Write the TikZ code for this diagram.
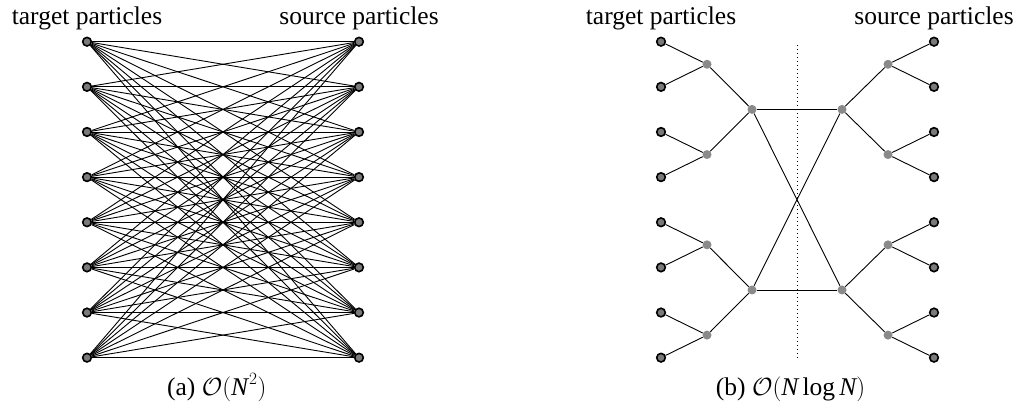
\documentclass[tikz,border=0pt]{standalone}
\usepackage{fontspec}
\setmainfont{Liberation Serif}
\definecolor{leafgray}{HTML}{7A7A7A}
\definecolor{dotgray}{HTML}{8A8A8A}
\begin{document}
\begin{tikzpicture}[x=1pt,y=-1pt,
  leaf/.style={circle,draw=black,fill=leafgray,line width=1.6pt,minimum size=8.6pt,inner sep=0pt},
  inner/.style={circle,fill=dotgray,minimum size=9pt,inner sep=0pt},
  edge/.style={line width=0.9pt,black},
  lab/.style={font=\fontsize{25.5}{30}\selectfont,anchor=base,inner sep=0pt}]
\useasboundingbox (0,0) rectangle (1019,407);
% ---------- panel (a)
\foreach \i in {0,...,7}{
  \node[leaf] (t\i) at (87,{41.7+45.14*\i}) {};
  \node[leaf] (s\i) at (359,{41.7+45.14*\i}) {};
}
\foreach \i in {0,...,7}{
  \foreach \j in {0,...,7}{
    \draw[edge] (t\i) -- (s\j);
  }
}
\node[lab] (la1) at (87,24) {target particles};
\node[lab] (la2) at (359,24) {source particles};
\node[lab] (capa) at (216.7,395) {(a) $\mathcal{O}(\textit{N}^{\kern1pt 2})$};
% ---------- panel (b)
\coordinate (dt) at (797,45);
\coordinate (db) at (797,358);
\draw[line width=1pt,dash pattern=on 1pt off 3pt] (dt) -- (db);
\foreach \i in {0,...,7}{
  \node[leaf] (L\i) at (661,{41.7+45.14*\i}) {};
  \node[leaf] (R\i) at (934,{41.7+45.14*\i}) {};
}
\foreach \k in {0,...,3}{
  \node[inner] (A\k) at (707,{41.7+45.14*(2*\k+0.5)}) {};
  \node[inner] (B\k) at (888,{41.7+45.14*(2*\k+0.5)}) {};
}
\node[inner] (C0) at (752,{41.7+45.14*1.5}) {};
\node[inner] (C1) at (752,{41.7+45.14*5.5}) {};
\node[inner] (D0) at (842,{41.7+45.14*1.5}) {};
\node[inner] (D1) at (842,{41.7+45.14*5.5}) {};
\foreach \k [evaluate=\k as \a using int(2*\k), evaluate=\k as \b using int(2*\k+1)] in {0,...,3}{
  \draw[edge] (L\a) -- (A\k);
  \draw[edge] (L\b) -- (A\k);
  \draw[edge] (R\a) -- (B\k);
  \draw[edge] (R\b) -- (B\k);
}
\draw[edge] (A0) -- (C0);
\draw[edge] (A1) -- (C0);
\draw[edge] (A2) -- (C1);
\draw[edge] (A3) -- (C1);
\draw[edge] (B0) -- (D0);
\draw[edge] (B1) -- (D0);
\draw[edge] (B2) -- (D1);
\draw[edge] (B3) -- (D1);
\draw[edge] (C0) -- (D0);
\draw[edge] (C1) -- (D1);
\draw[edge] (C0) -- (D1);
\draw[edge] (C1) -- (D0);
\node[lab] (lb1) at (661,24) {target particles};
\node[lab] (lb2) at (934,24) {source particles};
\node[lab] (capb) at (790.5,395) {(b) $\mathcal{O}(\textit{N}\mathop{\textrm{log}}\textit{N})$};
\end{tikzpicture}
\end{document}
